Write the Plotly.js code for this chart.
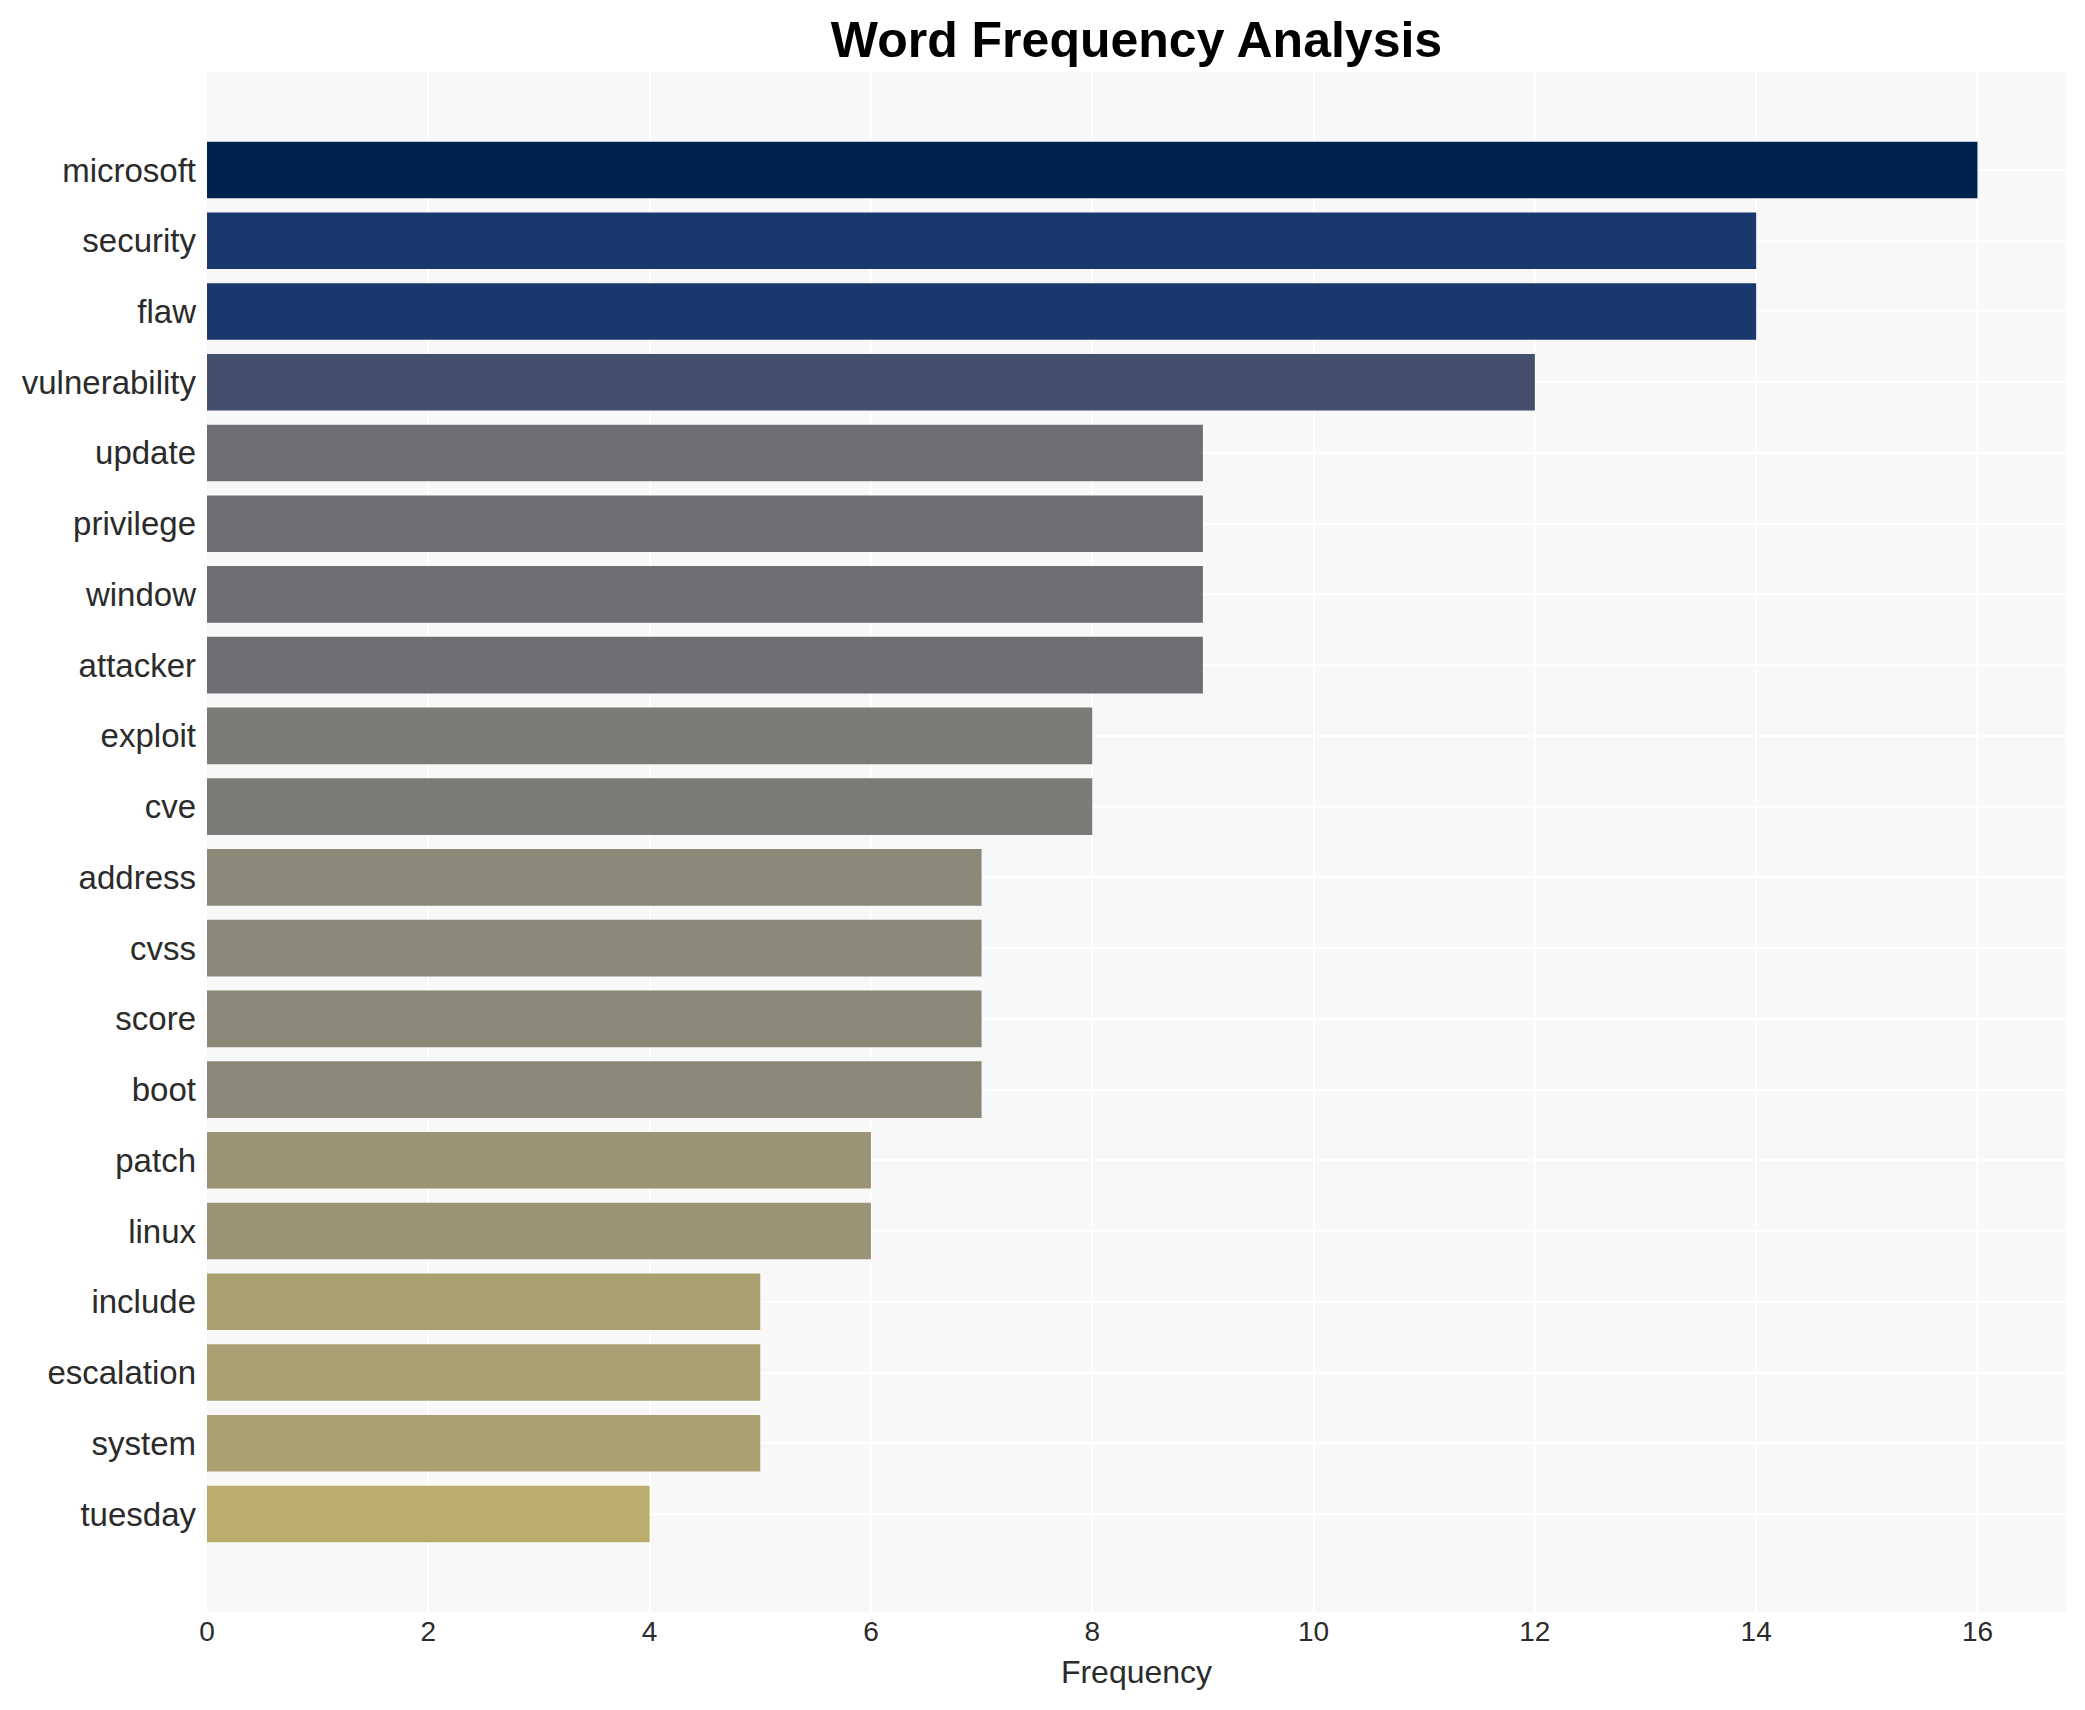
<!DOCTYPE html>
<html>
<head>
<meta charset="utf-8">
<script src="https://cdn.plot.ly/plotly-3.0.1.min.js"></script>
<style>html,body{margin:0;padding:0;background:#fff;}#chart{width:2085px;height:1710px;}</style>
</head>
<body>
<div id="chart"></div>
<script>
// Data
const words = ["microsoft","security","flaw","vulnerability","update","privilege","window","attacker","exploit","cve","address","cvss","score","boot","patch","linux","include","escalation","system","tuesday"];
const counts = [16,14,14,12,9,9,9,9,8,8,7,7,7,7,6,6,5,5,5,4];
const xTicks = [0,2,4,6,8,10,12,14,16];

// Style: colour for each frequency level
const colorByCount = {16:"#00224e",14:"#1a376e",12:"#434f6c",9:"#6f6f73",8:"#7c7b78",7:"#8b8877",6:"#9a9474",5:"#aaa072",4:"#b9ac6c"};
const barColors = counts.map(c => colorByCount[c]);

const trace = {
  type: "bar",
  orientation: "h",
  x: counts,
  y: words,
  width: 0.8,
  marker: {color: barColors, line: {width: 0}},
  hoverinfo: "x+y"
};

const layout = {
  width: 2085,
  height: 1710,
  margin: {l: 207, r: 19, t: 72, b: 98, pad: 0},
  paper_bgcolor: "#ffffff",
  plot_bgcolor: "#f8f8f8",
  font: {family: "Liberation Sans, Arial, sans-serif", color: "#2b2b2b"},
  title: {
    text: "<b>Word Frequency Analysis</b>",
    font: {size: 50, color: "#000000", family: "Liberation Sans, Arial, sans-serif"},
    x: 0.5, xanchor: "center", xref: "paper",
    y: 0.977, yanchor: "middle", yref: "container"
  },
  xaxis: {
    title: {text: "Frequency", font: {size: 32, color: "#2b2b2b"}, standoff: 14},
    tickvals: xTicks,
    ticktext: xTicks.map(String),
    tickfont: {size: 28, color: "#2b2b2b"},
    range: [0, 16.8],
    showgrid: true, gridcolor: "#ffffff", gridwidth: 2,
    zeroline: false, showline: false, ticks: ""
  },
  yaxis: {
    categoryorder: "array",
    categoryarray: words,
    range: [20.385, -1.385],
    tickfont: {size: 33, color: "#2b2b2b"},
    showgrid: true, gridcolor: "#ffffff", gridwidth: 2,
    zeroline: false, showline: false, ticks: "", ticklabelstandoff: 10
  },
  showlegend: false,
  bargap: 0.2
};

Plotly.newPlot("chart", [trace], layout, {displayModeBar: false, staticPlot: true});
</script>
</body>
</html>
